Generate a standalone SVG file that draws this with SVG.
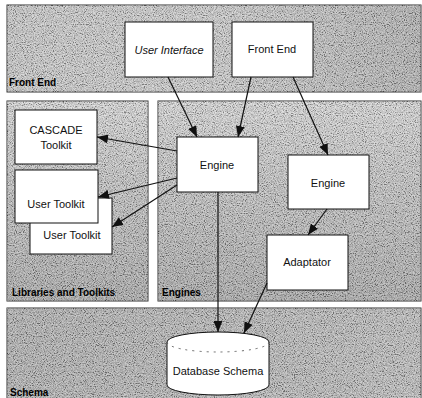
<svg xmlns="http://www.w3.org/2000/svg" width="422" height="398" viewBox="0 0 422 398">
<style>
.panel{stroke:#333;stroke-width:1}
.box{fill:#fff;stroke:#111;stroke-width:1}
.t{font-family:"Liberation Sans",Arial,sans-serif;font-size:11px;fill:#111;text-anchor:middle}
.lbl{font-family:"Liberation Sans",Arial,sans-serif;font-size:10px;font-weight:bold;fill:#000}
.con{stroke:#111;stroke-width:1.2;fill:none;marker-end:url(#arr)}
</style>
<defs>
<marker id="arr" markerUnits="userSpaceOnUse" markerWidth="11" markerHeight="9" refX="11" refY="4.5" orient="auto">
<path d="M0,0 L11,4.5 L0,9 z" fill="#111"/>
</marker>
<linearGradient id="gFE" x1="0" y1="0" x2="1" y2="0">
<stop offset="0" stop-color="#c2c2c2"/><stop offset="0.5" stop-color="#c6c6c6"/><stop offset="1" stop-color="#a8a8a8"/>
</linearGradient>
<linearGradient id="gV" x1="0" y1="0" x2="0" y2="1">
<stop offset="0" stop-color="#d4d4d4"/><stop offset="0.4" stop-color="#bcbcbc"/><stop offset="1" stop-color="#9e9e9e"/>
</linearGradient>
<linearGradient id="gS" x1="0" y1="0" x2="1" y2="0">
<stop offset="0" stop-color="#a6a6a6"/><stop offset="1" stop-color="#b4b4b4"/>
</linearGradient>
<filter id="grain" x="0" y="0" width="100%" height="100%">
<feTurbulence type="fractalNoise" baseFrequency="0.9" numOctaves="2" seed="7"/>
<feColorMatrix type="matrix" values="2.4 0 0 0 -0.7  2.4 0 0 0 -0.7  2.4 0 0 0 -0.7  0 0 0 0 1"/>
</filter>
<clipPath id="pclip">
<rect x="7" y="5" width="414" height="87"/>
<rect x="7" y="101" width="141" height="200"/>
<rect x="158" y="101" width="263" height="200"/>
<rect x="7" y="308" width="414" height="92"/>
</clipPath>
</defs>
<rect width="422" height="398" fill="#fff"/>
<g id="panels">
<rect class="panel" x="7" y="5" width="414" height="87" fill="url(#gFE)"/>
<rect class="panel" x="7" y="101" width="141" height="200" fill="url(#gV)"/>
<rect class="panel" x="158" y="101" width="263" height="200" fill="url(#gV)"/>
<rect class="panel" x="7" y="308" width="414" height="92" fill="url(#gS)"/>
<rect x="0" y="0" width="422" height="398" filter="url(#grain)" clip-path="url(#pclip)" opacity="0.38"/>
<text class="lbl" x="9" y="86">Front End</text>
<text class="lbl" x="12" y="296">Libraries and Toolkits</text>
<text class="lbl" x="162" y="296">Engines</text>
<text class="lbl" x="10" y="396">Schema</text>
</g>
<g id="node-user-interface">
<rect class="box" x="125" y="22" width="88" height="55"/>
<text class="t" x="169" y="54" font-style="italic">User Interface</text>
</g>
<g id="node-front-end">
<rect class="box" x="232" y="22" width="81" height="55"/>
<text class="t" x="272" y="53">Front End</text>
</g>
<g id="node-cascade">
<rect class="box" x="15" y="110" width="82" height="54"/>
<text class="t" x="56" y="134">CASCADE</text>
<text class="t" x="56" y="149">Toolkit</text>
</g>
<g id="node-user-toolkit-2">
<rect class="box" x="30" y="198" width="82" height="56"/>
<text class="t" x="72" y="239">User Toolkit</text>
</g>
<g id="node-user-toolkit-1">
<rect class="box" x="15" y="170" width="83" height="53"/>
<text class="t" x="56" y="208">User Toolkit</text>
</g>
<g id="node-engine">
<rect class="box" x="177" y="137" width="81" height="55"/>
<text class="t" x="217" y="169">Engine</text>
</g>
<g id="node-engine-2">
<rect class="box" x="288" y="155" width="81" height="54"/>
<text class="t" x="328" y="187">Engine</text>
</g>
<g id="node-adaptator">
<rect class="box" x="267" y="235" width="81" height="55"/>
<text class="t" x="307" y="266">Adaptator</text>
</g>
<g id="node-database">
<path class="box" d="M167,342 A51,10 0 0 1 269,342 L269,385 A51,10 0 0 1 167,385 Z"/>
<path d="M167,342 A51,10 0 0 0 269,342" fill="none" stroke="#444" stroke-width="0.8" stroke-dasharray="2,5"/>
<text class="t" x="218" y="375">Database Schema</text>
</g>
<g id="connectors">
<line class="con" x1="168" y1="77" x2="197" y2="137"/>
<line class="con" x1="251" y1="77" x2="238" y2="137"/>
<line class="con" x1="293" y1="77" x2="328" y2="155"/>
<line class="con" x1="177" y1="151" x2="97" y2="137"/>
<line class="con" x1="177" y1="178" x2="98" y2="197"/>
<line class="con" x1="177" y1="185" x2="112" y2="227"/>
<line class="con" x1="218" y1="192" x2="218" y2="332"/>
<line class="con" x1="327" y1="209" x2="308" y2="235"/>
<line class="con" x1="267" y1="283" x2="244" y2="333"/>
</g>
</svg>
